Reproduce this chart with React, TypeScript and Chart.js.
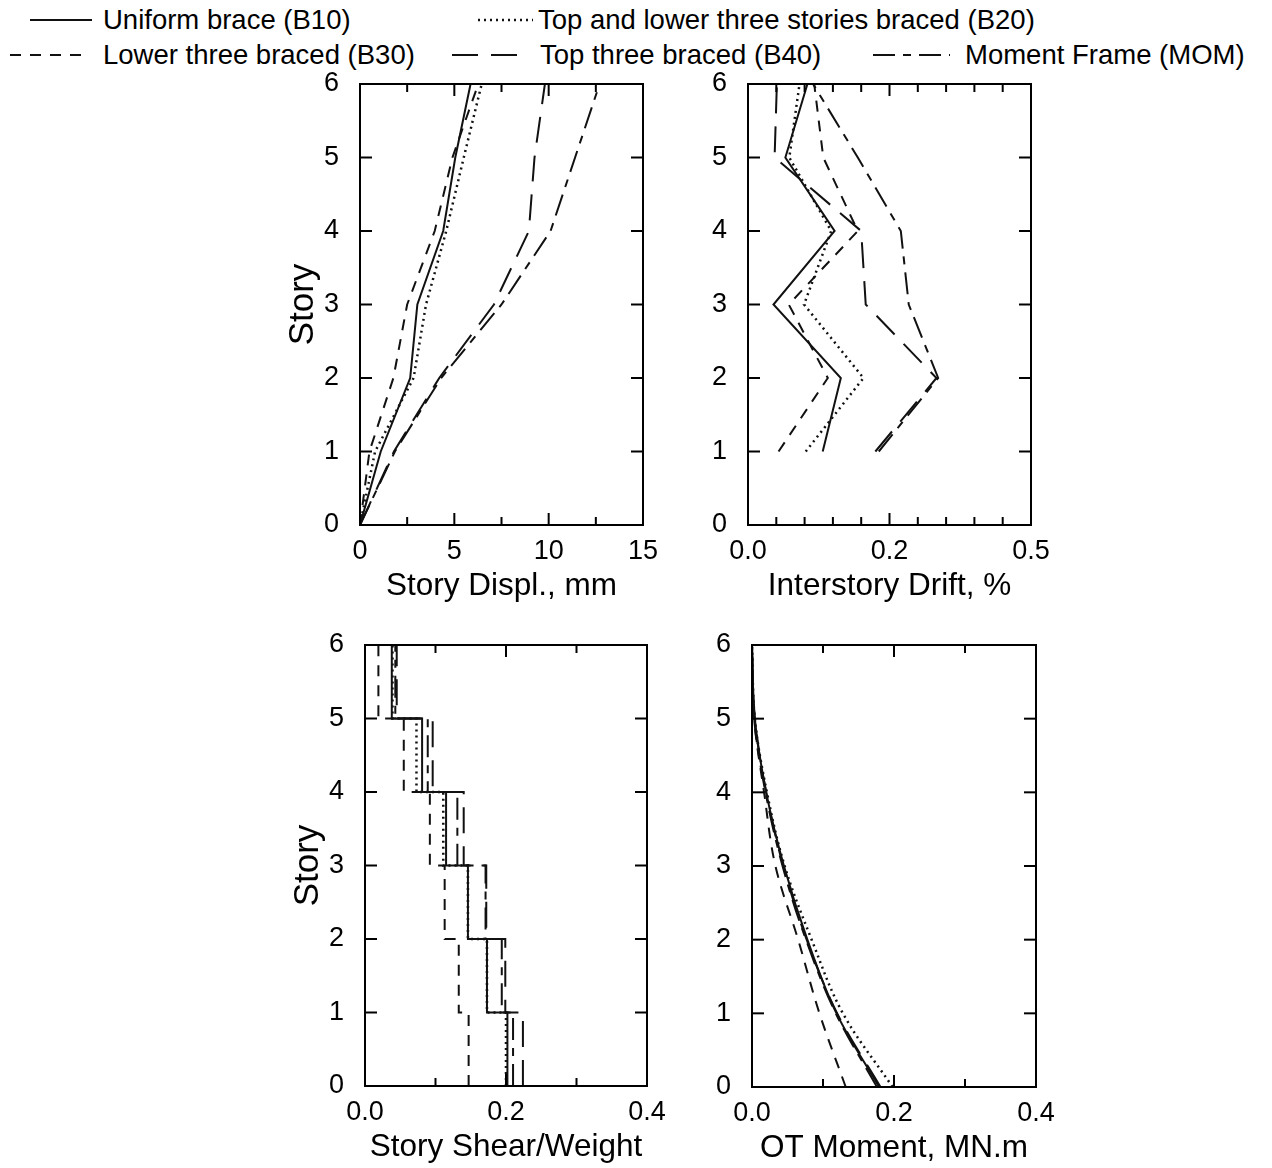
import React, { useEffect, useRef } from 'react';
import { Chart, registerables } from 'chart.js';
Chart.register(...registerables);

const FONT = "'Liberation Sans', Arial, Helvetica, sans-serif";

const SERIES_NAMES = [
  'Uniform brace (B10)',
  'Top and lower three stories braced (B20)',
  'Lower three braced (B30)',
  'Top three braced (B40)',
  'Moment Frame (MOM)',
];

// Story levels
const STORIES = [0, 1, 2, 3, 4, 5, 6];
const DRIFT_STORIES = [1, 2, 3, 4, 5, 6];
const SHEAR_STORIES = [1, 2, 3, 4, 5, 6];

// Story displacement, mm (levels 0..6)
const dispB10 = [0, 1.1, 2.66, 3.04, 4.41, 5.05, 5.86];
const dispB20 = [0, 0.8, 2.84, 3.5, 4.57, 5.5, 6.45];
const dispB30 = [0, 0.5, 1.77, 2.5, 3.96, 4.9, 6.27];
const dispB40 = [0, 1.8, 4.2, 7.1, 8.95, 9.25, 9.8];
const dispMOM = [0, 1.85, 4.3, 7.5, 10.1, 11.4, 12.7];

// Interstory drift, % (stories 1..6)
const driftB10 = [0.132, 0.164, 0.045, 0.153, 0.066, 0.105];
const driftB20 = [0.102, 0.204, 0.099, 0.147, 0.073, 0.091];
const driftB30 = [0.054, 0.141, 0.072, 0.194, 0.133, 0.117];
const driftB40 = [0.225, 0.333, 0.208, 0.2, 0.047, 0.051];
const driftMOM = [0.231, 0.336, 0.284, 0.27, 0.194, 0.115];

// Story shear / weight (stories 1..6, constant over each story)
const shearB10 = [0.202, 0.173, 0.146, 0.115, 0.081, 0.038];
const shearB20 = [0.2, 0.173, 0.146, 0.111, 0.073, 0.039];
const shearB30 = [0.147, 0.133, 0.113, 0.092, 0.055, 0.019];
const shearB40 = [0.224, 0.199, 0.172, 0.14, 0.096, 0.045];
const shearMOM = [0.21, 0.194, 0.171, 0.131, 0.089, 0.043];

// Overturning moment, MN.m (levels 0..6)
const otmB10 = [0.179, 0.119, 0.078, 0.045, 0.02, 0.004, 0];
const otmB20 = [0.198, 0.128, 0.084, 0.046, 0.021, 0.004, 0];
const otmB30 = [0.132, 0.095, 0.065, 0.033, 0.017, 0.003, 0];
const otmB40 = [0.181, 0.12, 0.077, 0.044, 0.02, 0.004, 0];
const otmMOM = [0.176, 0.118, 0.076, 0.043, 0.019, 0.003, 0];

// Tick labels
const DISP_TICKS = [0, 5, 10, 15];
const DISP_LABELS = ['0', '5', '10', '15'];
const DRIFT_TICKS = [0, 0.25, 0.5];
const DRIFT_LABELS = ['0.0', '0.2', '0.5'];
const SHEAR_TICKS = [0, 0.2, 0.4];
const SHEAR_LABELS = ['0.0', '0.2', '0.4'];

const STYLES = [
  { dash: [] as number[], width: 2 },
  { dash: [2, 4], width: 2.5 },
  { dash: [11, 9], width: 2 },
  { dash: [26, 13], width: 2 },
  { dash: [22, 8, 8, 8], width: 2 },
];

const toPts = (xs: number[], ys: number[]) => xs.map((x, i) => ({ x, y: ys[i] }));
const toSteps = (vals: number[], stories: number[]) => {
  const pts: { x: number; y: number }[] = [];
  vals.forEach((v, i) => {
    pts.push({ x: v, y: stories[i] - 1 });
    pts.push({ x: v, y: stories[i] });
  });
  return pts;
};

const PAD_L = 84;
const PAD_T = 42;
const PAD_R = 42;
const PAD_B = 84;

const frameTicks = {
  id: 'frameTicks',
  afterDatasetsDraw(chart: any, _args: any, opts: any) {
    const { ctx, chartArea: a, scales } = chart;
    ctx.save();
    ctx.strokeStyle = '#000';
    ctx.lineWidth = 2;
    ctx.setLineDash([]);
    ctx.strokeRect(a.left, a.top, a.right - a.left, a.bottom - a.top);
    const major: number[] = opts.xMajor || [];
    const seg = (x1: number, y1: number, x2: number, y2: number) => {
      ctx.beginPath();
      ctx.moveTo(x1, y1);
      ctx.lineTo(x2, y2);
      ctx.stroke();
    };
    const xs = scales.x;
    xs.ticks.forEach((t: any) => {
      const px = xs.getPixelForValue(t.value);
      const isMajor = major.some((m) => Math.abs(m - t.value) < 1e-6);
      const L = isMajor ? 12 : 8;
      seg(px, a.bottom, px, a.bottom - L);
      seg(px, a.top, px, a.top + L);
    });
    const ys = scales.y;
    ys.ticks.forEach((t: any) => {
      const py = ys.getPixelForValue(t.value);
      seg(a.left, py, a.left + 12, py);
      seg(a.right, py, a.right - 12, py);
    });
    ctx.restore();
  },
};

type PanelCfg = {
  left: number;
  top: number;
  right: number;
  bottom: number;
  xMax: number;
  xStep: number;
  xTicks: number[];
  xLabels: string[];
  xTitle: string;
  yTitle: string;
  tension: number;
  series: { x: number; y: number }[][];
};

const PANELS: PanelCfg[] = [
  {
    left: 360, top: 84, right: 643, bottom: 525,
    xMax: 15, xStep: 2.5, xTicks: DISP_TICKS, xLabels: DISP_LABELS,
    xTitle: 'Story Displ., mm', yTitle: 'Story', tension: 0,
    series: [dispB10, dispB20, dispB30, dispB40, dispMOM].map((s) => toPts(s, STORIES)),
  },
  {
    left: 748, top: 84, right: 1031, bottom: 525,
    xMax: 0.5, xStep: 0.05, xTicks: DRIFT_TICKS, xLabels: DRIFT_LABELS,
    xTitle: 'Interstory Drift, %', yTitle: '', tension: 0,
    series: [driftB10, driftB20, driftB30, driftB40, driftMOM].map((s) => toPts(s, DRIFT_STORIES)),
  },
  {
    left: 365, top: 645, right: 647, bottom: 1086,
    xMax: 0.4, xStep: 0.1, xTicks: SHEAR_TICKS, xLabels: SHEAR_LABELS,
    xTitle: 'Story Shear/Weight', yTitle: 'Story', tension: 0,
    series: [shearB10, shearB20, shearB30, shearB40, shearMOM].map((s) => toSteps(s, SHEAR_STORIES)),
  },
  {
    left: 752, top: 645, right: 1036, bottom: 1087,
    xMax: 0.4, xStep: 0.1, xTicks: SHEAR_TICKS, xLabels: SHEAR_LABELS,
    xTitle: 'OT Moment, MN.m', yTitle: '', tension: 0.35,
    series: [otmB10, otmB20, otmB30, otmB40, otmMOM].map((s) => toPts(s, STORIES)),
  },
];

function Panel({ cfg }: { cfg: PanelCfg }) {
  const ref = useRef<HTMLCanvasElement>(null);
  const W = cfg.right - cfg.left + PAD_L + PAD_R;
  const H = cfg.bottom - cfg.top + PAD_T + PAD_B;
  useEffect(() => {
    const chart = new Chart(ref.current as HTMLCanvasElement, {
      type: 'scatter',
      data: {
        datasets: cfg.series.map((pts, i) => ({
          label: SERIES_NAMES[i],
          data: pts,
          showLine: true,
          borderColor: '#111',
          backgroundColor: '#111',
          borderWidth: STYLES[i].width,
          borderDash: STYLES[i].dash,
          borderCapStyle: 'butt',
          pointRadius: 0,
          tension: cfg.tension,
          fill: false,
        })),
      },
      options: {
        responsive: false,
        animation: false,
        devicePixelRatio: 1,
        layout: { padding: { top: PAD_T, right: PAD_R, left: 0, bottom: 0 } },
        plugins: {
          legend: { display: false },
          tooltip: { enabled: false },
          frameTicks: { xMajor: cfg.xTicks },
        } as any,
        scales: {
          x: {
            type: 'linear',
            min: 0,
            max: cfg.xMax,
            grid: { display: false, drawTicks: false },
            border: { display: false },
            ticks: {
              stepSize: cfg.xStep,
              autoSkip: false,
              maxRotation: 0,
              padding: 10,
              color: '#000',
              font: { size: 27, family: FONT },
              callback: (v: any) => {
                const idx = cfg.xTicks.findIndex((t) => Math.abs(t - Number(v)) < 1e-6);
                return idx >= 0 ? cfg.xLabels[idx] : '';
              },
            },
            title: {
              display: true,
              text: cfg.xTitle,
              color: '#000',
              font: { size: 31.5, family: FONT },
              padding: { top: 0, bottom: 4 },
            },
            afterFit: (s: any) => {
              s.height = PAD_B;
            },
          },
          y: {
            type: 'linear',
            min: 0,
            max: 6,
            grid: { display: false, drawTicks: false },
            border: { display: false },
            ticks: {
              stepSize: 1,
              padding: 21,
              color: '#000',
              font: { size: 27, family: FONT },
            },
            title: {
              display: cfg.yTitle !== '',
              text: cfg.yTitle,
              color: '#000',
              font: { size: 35, family: FONT },
              padding: { top: 6, bottom: 0 },
            },
            afterFit: (s: any) => {
              s.width = PAD_L;
            },
          },
        },
      } as any,
      plugins: [frameTicks],
    });
    return () => chart.destroy();
  }, []);
  return (
    <canvas
      ref={ref}
      width={W}
      height={H}
      style={{ position: 'absolute', left: cfg.left - PAD_L, top: cfg.top - PAD_T, width: W, height: H }}
    />
  );
}

type LegendItem = { name: number; x1: number; x2: number; tx: number; y: number };
const LEGEND_ITEMS: LegendItem[] = [
  { name: 0, x1: 30, x2: 92, tx: 103, y: 20 },
  { name: 1, x1: 478, x2: 533, tx: 538, y: 20 },
  { name: 2, x1: 10, x2: 86, tx: 103, y: 55 },
  { name: 3, x1: 452, x2: 527, tx: 540, y: 55 },
  { name: 4, x1: 873, x2: 950, tx: 965, y: 55 },
];

function Legend() {
  return (
    <>
      {LEGEND_ITEMS.map((it) => {
        const st = STYLES[it.name];
        return (
          <React.Fragment key={it.name}>
            <svg
              width={it.x2 - it.x1}
              height={6}
              style={{ position: 'absolute', left: it.x1, top: it.y - 3 }}
            >
              <line
                x1={0}
                y1={3}
                x2={it.x2 - it.x1}
                y2={3}
                stroke="#111"
                strokeWidth={st.width}
                strokeDasharray={st.dash.length ? st.dash.join(' ') : undefined}
              />
            </svg>
            <div
              style={{
                position: 'absolute',
                left: it.tx,
                top: it.y - 16,
                height: 32,
                lineHeight: '32px',
                fontFamily: FONT,
                fontSize: 27.5,
                color: '#000',
                whiteSpace: 'nowrap',
              }}
            >
              {SERIES_NAMES[it.name]}
            </div>
          </React.Fragment>
        );
      })}
    </>
  );
}

export default function App() {
  return (
    <div
      style={{
        position: 'absolute',
        left: 0,
        top: 0,
        width: 1272,
        height: 1168,
        background: '#fff',
        overflow: 'hidden',
      }}
    >
      <Legend />
      {PANELS.map((p, i) => (
        <Panel key={i} cfg={p} />
      ))}
    </div>
  );
}
